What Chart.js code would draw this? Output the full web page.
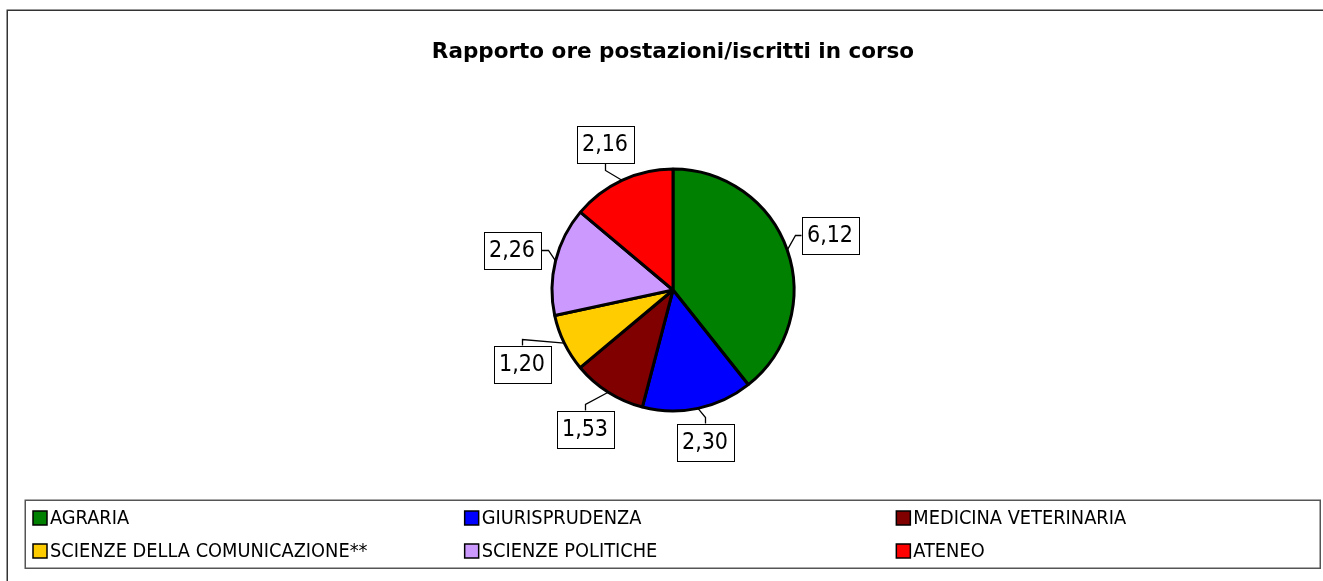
<!DOCTYPE html>
<html><head><meta charset="utf-8">
<script src="https://cdn.jsdelivr.net/npm/chart.js@4/dist/chart.umd.min.js"></script>
<style>html,body{margin:0;padding:0;background:#fff;overflow:hidden}canvas{display:block}</style>
</head><body>
<canvas id="c" width="1323" height="581"></canvas>
<script>
const chartTitle = 'Rapporto ore postazioni/iscritti in corso';
const categories = ['AGRARIA', 'GIURISPRUDENZA', 'MEDICINA VETERINARIA', 'SCIENZE DELLA COMUNICAZIONE**', 'SCIENZE POLITICHE', 'ATENEO'];
const values = [6.12, 2.30, 1.53, 1.20, 2.26, 2.16];
const colors = ['#008000', '#0000FF', '#800000', '#FFCC00', '#CC99FF', '#FF0000'];

const fmt = v => v.toFixed(2).replace('.', ',');

const decor = {
  id: 'decor',
  beforeDraw(chart) {
    const ctx = chart.ctx;
    ctx.save();
    ctx.fillStyle = '#fff';
    ctx.fillRect(0, 0, chart.width, chart.height);
    ctx.strokeStyle = '#333';
    ctx.lineWidth = 1.5;
    ctx.strokeRect(7.25, 10.25, chart.width + 50, chart.height + 50);
    const ca = chart.chartArea;
    ctx.fillStyle = '#000';
    ctx.font = 'bold 21.5px "DejaVu Sans"';
    ctx.textAlign = 'center';
    ctx.textBaseline = 'middle';
    ctx.fillText(chartTitle, (ca.left + ca.right) / 2, 52);
    ctx.restore();
  },
  afterDraw(chart) {
    const ctx = chart.ctx;
    ctx.save();
    // legend
    const lx = 25, ly = 500, lw = 1295, lh = 68;
    ctx.strokeStyle = '#555';
    ctx.lineWidth = 1.5;
    ctx.strokeRect(lx + 0.25, ly + 0.25, lw, lh);
    const colW = lw / 3;
    ctx.font = '19.8px "DejaVu Sans Condensed"';
    ctx.textAlign = 'left';
    ctx.textBaseline = 'middle';
    categories.forEach((name, i) => {
      const c = i % 3, r = Math.floor(i / 3);
      const sx = lx + 8 + c * colW;
      const cy = ly + 18 + r * 33;
      ctx.fillStyle = colors[i];
      ctx.fillRect(sx, cy - 7, 14, 14);
      ctx.strokeStyle = '#000';
      ctx.lineWidth = 1.5;
      ctx.strokeRect(sx, cy - 7, 14, 14);
      ctx.fillStyle = '#000';
      ctx.fillText(name, sx + 17, cy + 1);
    });
    // data labels with leader lines
    const meta = chart.getDatasetMeta(0);
    ctx.font = '23px "DejaVu Sans Condensed"';
    meta.data.forEach((arc, i) => {
      const p = arc.getProps(['x', 'y', 'startAngle', 'endAngle', 'outerRadius'], true);
      const mid = (p.startAngle + p.endAngle) / 2;
      const dx = Math.cos(mid), dy = Math.sin(mid);
      const R = p.outerRadius;
      const ex = p.x + dx * R, ey = p.y + dy * R;
      const txt = fmt(values[i]);
      const tw = ctx.measureText(txt).width;
      const bw = Math.round(tw + 11), bh = 37;
      const hw = bw / 2, hh = bh / 2;
      const target = R + 13;
      let lo = R * 0.5, hi = R + 300;
      for (let k = 0; k < 40; k++) {
        const t = (lo + hi) / 2;
        const nx = Math.max(Math.abs(dx * t) - hw, 0), ny = Math.max(Math.abs(dy * t) - hh, 0);
        if (Math.hypot(nx, ny) < target) lo = t; else hi = t;
      }
      const t = (lo + hi) / 2;
      const bx = Math.round(p.x + dx * t), by = Math.round(p.y + dy * t);
      const left = bx - hw, right = bx + hw, top = by - hh, bottom = by + hh;
      let ax, ay, kx, ky;
      if (ey < top) { ax = bx; ay = top; kx = bx; ky = top - 7; }
      else if (ey > bottom) { ax = bx; ay = bottom; kx = bx; ky = bottom + 7; }
      else if (ex < left) { ax = left; ay = by; kx = left - 7; ky = by; }
      else { ax = right; ay = by; kx = right + 7; ky = by; }
      ctx.strokeStyle = '#000';
      ctx.lineWidth = 1.3;
      ctx.beginPath();
      ctx.moveTo(ex, ey);
      ctx.lineTo(Math.round(kx) + 0.5, Math.round(ky) + 0.5);
      ctx.lineTo(Math.round(ax) + 0.5, Math.round(ay) + 0.5);
      ctx.stroke();
      ctx.fillStyle = '#fff';
      ctx.fillRect(left, top, bw, bh);
      ctx.strokeStyle = '#000';
      ctx.lineWidth = 1;
      ctx.strokeRect(Math.round(left) + 0.5, Math.round(top) + 0.5, bw, bh);
      ctx.fillStyle = '#000';
      ctx.textAlign = 'center';
      ctx.textBaseline = 'middle';
      ctx.fillText(txt, bx, by + 1);
    });
    ctx.restore();
  }
};

new Chart(document.getElementById('c'), {
  type: 'pie',
  data: {
    labels: categories,
    datasets: [{
      data: values,
      backgroundColor: colors,
      borderColor: '#000',
      borderWidth: 3,
      radius: 121
    }]
  },
  options: {
    responsive: false,
    devicePixelRatio: 1,
    animation: false,
    layout: { padding: { left: 150, right: 127, top: 160, bottom: 161 } },
    plugins: {
      legend: { display: false },
      tooltip: { enabled: false },
      title: { display: false }
    }
  },
  plugins: [decor]
});
</script>
</body></html>
